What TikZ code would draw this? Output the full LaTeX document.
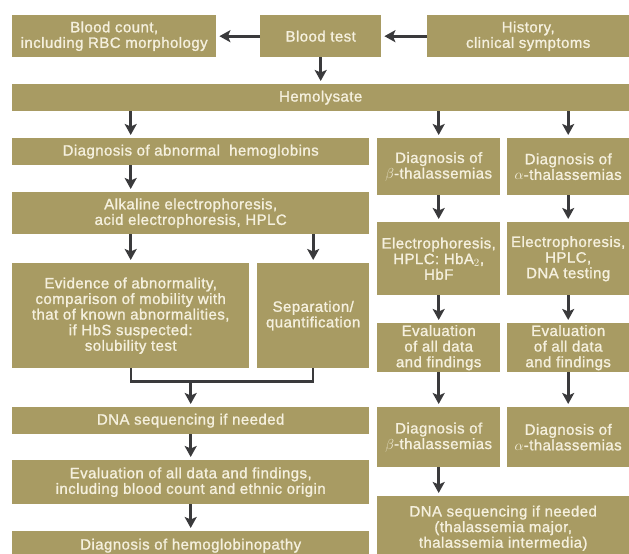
\documentclass[tikz,border=0pt]{standalone}
\usepackage{fontspec}
\setmainfont[LetterSpace=3,FakeBold=1.2]{Liberation Sans}
\usepackage{tikz}
\usetikzlibrary{arrows.meta}
\definecolor{boxolive}{HTML}{A89B63}
\definecolor{boxtext}{HTML}{F5F0DE}
\definecolor{arrgray}{HTML}{3A3A3C}
\tikzset{
  >={Stealth[length=11pt,width=12pt,inset=2.5pt]},
  arr/.style={->,draw=arrgray,line width=3pt,shorten >=3pt},
  brk/.style={draw=arrgray,line width=2.2pt},
}

\begin{document}
\begin{tikzpicture}[x=1pt,y=-1pt,
  box/.style={fill=boxolive,text=boxtext,align=center,inner sep=0pt,
    anchor=north west,font=\fontsize{15}{15.6}\selectfont},
  sz/.style 2 args={minimum width=#1pt,minimum height=#2pt},
]
  \clip (0,0) rectangle (629,554);

  % top row
  \node[box,sz={204}{42}] (BC) at (12,15) {Blood count,\\including RBC morphology};
  \node[box,sz={121}{42}] (BT) at (260,15) {Blood test};
  \node[box,sz={202}{42}] (HI) at (427,15) {History,\\clinical symptoms};
  \node[box,sz={617}{27}] (HEM) at (12,84) {Hemolysate};

  % abnormal hemoglobins
  \node[box,sz={357}{27}] (DA) at (12,138) {Diagnosis of abnormal~ hemoglobins};
  \node[box,sz={357}{42}] (AE) at (12,192) {Alkaline electrophoresis,\\acid electrophoresis, HPLC};
  \node[box,sz={237}{105}] (EV) at (12,263) {Evidence of abnormality,\\comparison of mobility with\\that of known abnormalities,\\if HbS suspected:\\solubility test};
  \node[box,sz={112}{105}] (SQ) at (257,263) {Separation/\\quantification};
  \node[box,sz={357}{27}] (DNA) at (12,407) {DNA sequencing if needed};
  \node[box,sz={357}{44}] (EVAL) at (12,460) {Evaluation of all data and findings,\\including blood count and ethnic origin};
  \node[box,sz={357}{29}] (HG) at (12,531) {Diagnosis of hemoglobinopathy};

  % beta-thalassemias
  \node[box,sz={123}{57}] (DB) at (377,138) {Diagnosis of\\$\beta$-thalassemias};
  \node[box,sz={123}{73}] (EB) at (377,222) {Electrophoresis,\\HPLC: HbA$_2$,\\HbF};
  \node[box,sz={123}{49}] (VB) at (377,323) {Evaluation\\of all data\\and findings};
  \node[box,sz={123}{60}] (DB2) at (377,407) {Diagnosis of\\$\beta$-thalassemias};
  \node[box,sz={252}{64}] (DNA2) at (377,496) {DNA sequencing if needed\\(thalassemia major,\\thalassemia intermedia)};

  % alpha-thalassemias
  \node[box,sz={122}{57}] (DL) at (507,138) {Diagnosis of\\$\alpha$-thalassemias};
  \node[box,sz={122}{73}] (EL) at (507,222) {Electrophoresis,\\HPLC,\\DNA testing};
  \node[box,sz={122}{49}] (VL) at (507,323) {Evaluation\\of all data\\and findings};
  \node[box,sz={122}{60}] (DL2) at (507,407) {Diagnosis of\\$\alpha$-thalassemias};

  \draw[arr] (BT.west) -- (BC.east);
  \draw[arr] (HI.west) -- (BT.east);
  \foreach \u/\v/\c in {BT/HEM/BT,HEM/DA/EV,DA/AE/EV,AE/EV/EV,AE/SQ/SQ,
      HEM/DB/DB,DB/EB/DB,EB/VB/DB,VB/DB2/DB,DB2/DNA2/DB,
      HEM/DL/DL,DL/EL/DL,EL/VL/DL,VL/DL2/DL,
      DNA/EVAL/DNA,EVAL/HG/DNA}
    \draw[arr] (\u.south -| \c.north) -- (\v.north -| \c.north);

  \draw[brk] (EV.south) -- ++(0,13) coordinate (J) -| (SQ.south);
  \draw[arr] (J -| DNA.north) -- (DNA.north);
\end{tikzpicture}
\end{document}
